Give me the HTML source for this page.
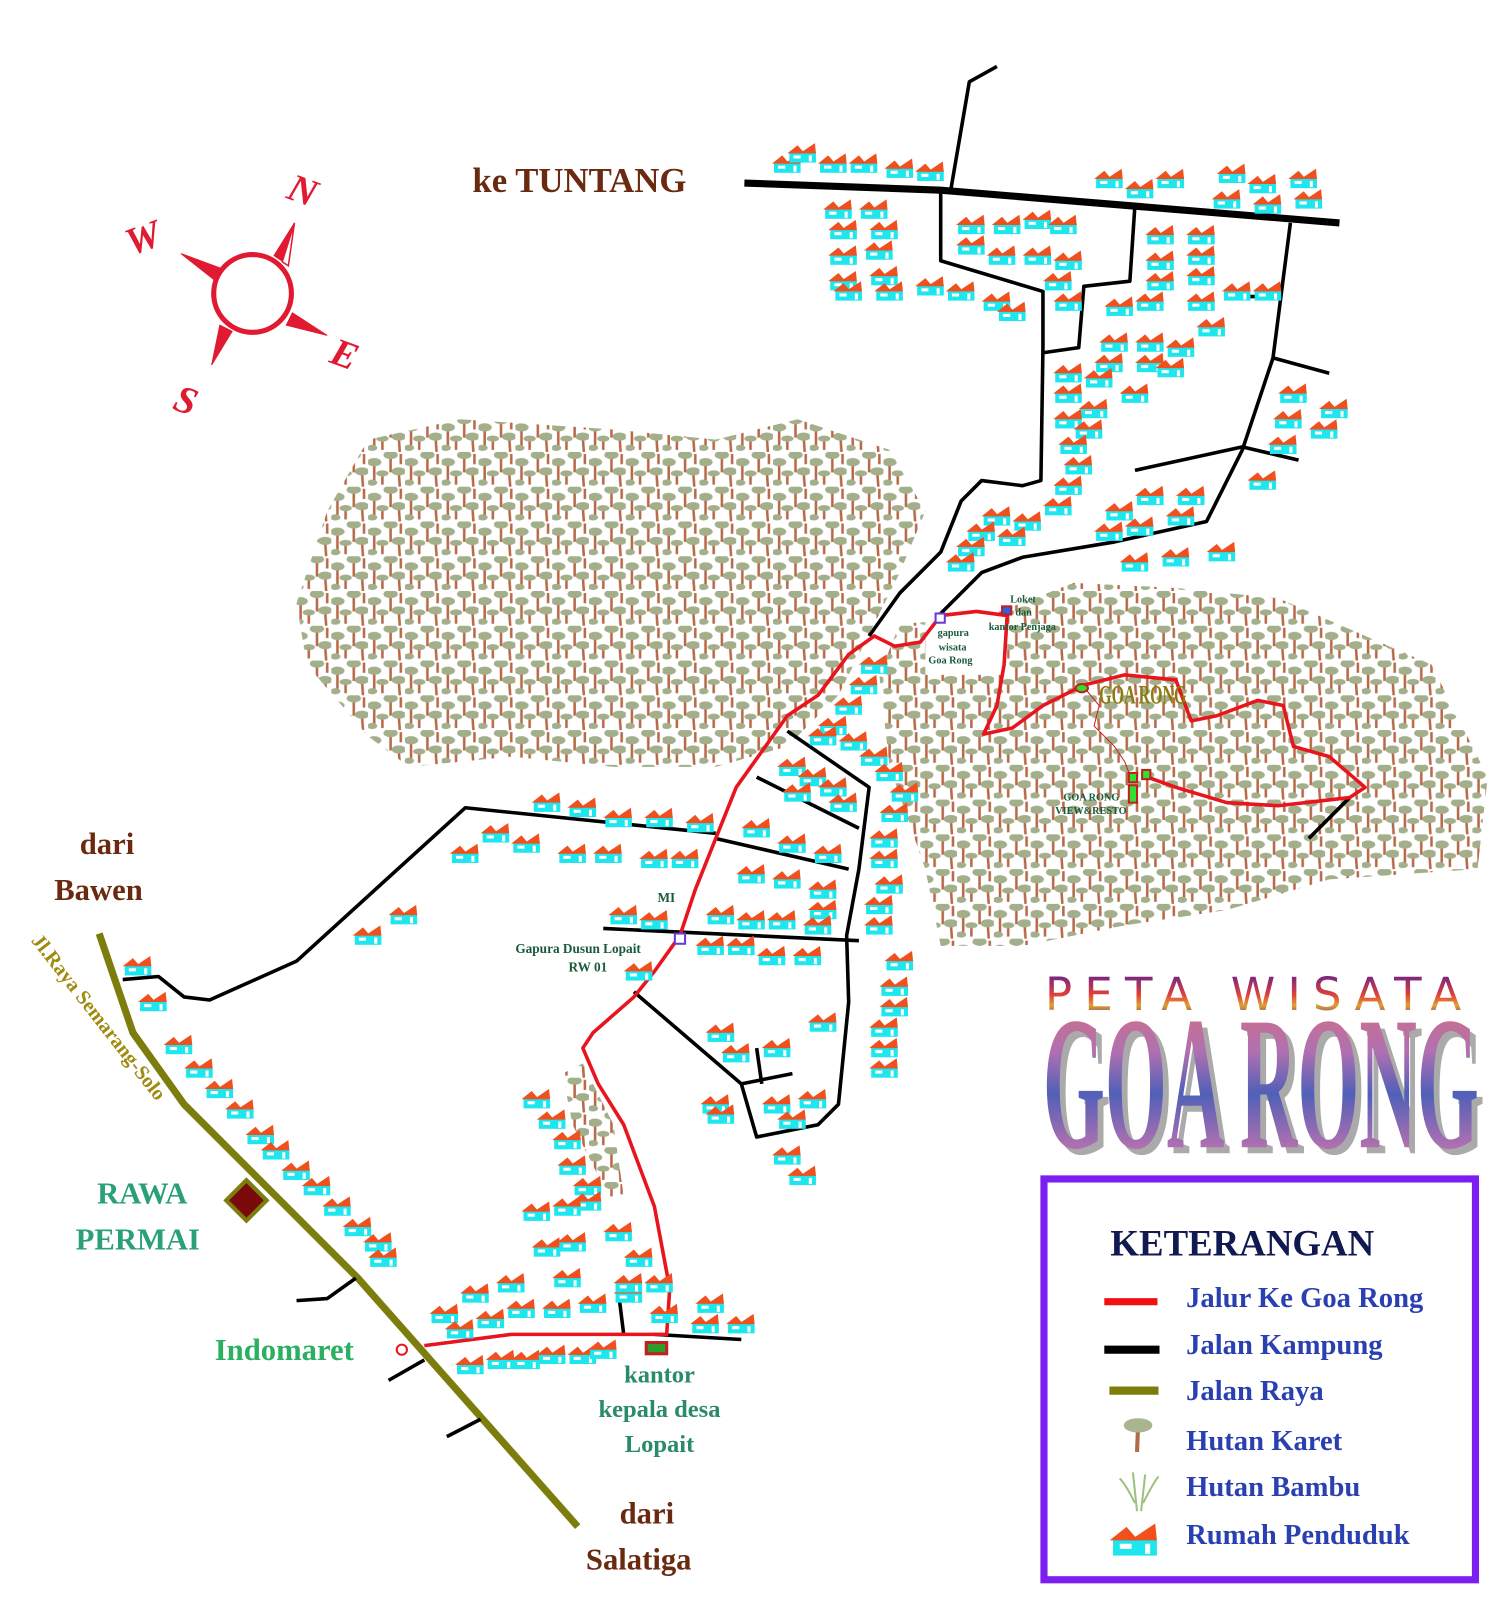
<!DOCTYPE html>
<html><head><meta charset="utf-8"><style>
html,body{margin:0;padding:0;background:#fff;width:1496px;height:1600px;overflow:hidden;}
svg{display:block;}
text{font-family:"Liberation Serif",serif;font-weight:bold;}
</style></head><body>
<svg id="m" width="1496" height="1600" viewBox="0 0 1496 1600" xmlns="http://www.w3.org/2000/svg">
<defs>
<symbol id="h" viewBox="0 0 30 20" width="30" height="20">
<rect x="2" y="9" width="26" height="10" fill="#1ee6ee"/>
<polygon points="0,10 10,2 17,10" fill="#f0501e"/>
<polygon points="12,10 27,0 28,10" fill="#f0501e"/>
<rect x="6" y="12" width="7" height="3" fill="#fff"/>
<rect x="21" y="12" width="3" height="6" fill="#fff"/>
</symbol>
<pattern id="tr" width="36" height="34" patternUnits="userSpaceOnUse">
<g stroke="#b86a48" stroke-width="2.5">
<line x1="6" y1="12" x2="6" y2="28"/><line x1="22" y1="4" x2="22" y2="20"/><line x1="30" y1="20" x2="31" y2="34"/><line x1="14" y1="22" x2="14" y2="32"/><line x1="32" y1="2" x2="32" y2="12"/>
</g>
<g fill="#a3ae8a">
<ellipse cx="6" cy="10" rx="7" ry="4"/><ellipse cx="22" cy="3" rx="7" ry="4"/><ellipse cx="30" cy="19" rx="7" ry="4"/><ellipse cx="14" cy="21" rx="6" ry="3"/><ellipse cx="4" cy="30" rx="5" ry="3"/>
</g>
</pattern>
<linearGradient id="gr" x1="0" y1="0" x2="0" y2="1">
<stop offset="0" stop-color="#e07070"/><stop offset="0.35" stop-color="#b070b0"/><stop offset="0.55" stop-color="#5060b8"/><stop offset="0.8" stop-color="#b070b0"/><stop offset="1" stop-color="#e07070"/>
</linearGradient>
<linearGradient id="gp" x1="0" y1="0" x2="0" y2="1">
<stop offset="0" stop-color="#4a1aa0"/><stop offset="0.5" stop-color="#e0403a"/><stop offset="0.7" stop-color="#e0a030"/><stop offset="1" stop-color="#4a1aa0"/>
</linearGradient>
</defs>
<g transform="scale(1.0225)">
<polygon fill="url(#tr)" points="290,590 320,500 360,430 450,410 600,420 700,430 780,410 870,440 905,500 880,560 850,620 820,680 770,730 700,750 600,750 500,740 400,750 360,720 300,650"/>
<polygon fill="url(#tr)" points="860,660 880,610 960,605 1050,570 1150,575 1250,585 1400,650 1455,760 1445,850 1300,860 1200,890 1100,905 1000,925 920,925 905,850 870,750"/>
<polygon fill="url(#tr)" points="550,1050 570,1040 600,1100 610,1170 595,1170 560,1100"/>
<rect x="905" y="600" width="80" height="60" fill="#fff"/>

<polyline points="97,913 130,1010 180,1080 350,1250 565,1493" fill="none" stroke="#7d7d0e" stroke-width="7"/>

<g fill="none" stroke="#000" stroke-width="3.5" stroke-linejoin="round">
<polyline points="728,179 920,186 1310,218" stroke-width="7"/>
<polyline points="930,185 948,80 975,65"/>
<polyline points="920,186 920,255 1020,285 1020,340 1018,470 1000,475 960,470 940,490 920,540 880,580 850,622"/>
<polyline points="1110,200 1105,275 1060,280 1055,340 1020,345"/>
<polyline points="1262,218 1245,350 1215,440 1180,510 1090,530 1000,545 960,560 920,600"/>
<polyline points="1245,350 1300,365"/><polyline points="1215,437 1110,460"/><polyline points="1215,437 1270,450"/><polyline points="1200,290 1250,290"/>
<polyline points="700,815 455,790 290,940 205,978 180,975 155,955 120,958"/>
<polyline points="770,715 850,770 840,850 828,915 830,980 820,1080 800,1100 740,1112 725,1060 620,970"/>
<polyline points="740,760 840,810"/><polyline points="700,820 830,850"/><polyline points="590,908 840,920"/>
<polyline points="725,1060 775,1050"/><polyline points="740,1025 745,1060"/>
<polyline points="640,1305 725,1310"/><polyline points="605,1265 610,1305"/>
<polyline points="290,1272 320,1270 348,1250"/><polyline points="380,1350 415,1330"/><polyline points="437,1405 470,1388"/>
<polyline points="1280,820 1320,780"/>
</g>

<polyline fill="none" stroke="#e8141e" stroke-width="3.5" stroke-linejoin="round" points="415,1316 500,1305 600,1305 652,1305 655,1260 640,1180 610,1100 585,1060 570,1025 580,1010 620,975 640,950 665,915 680,870 700,820 720,770 770,700 800,680 830,640 855,622 875,632 900,628 920,602 955,598 985,602 982,650 975,690 962,718 990,712 1020,690 1060,670 1100,660 1150,665 1165,705 1190,700 1230,685 1255,690 1265,730 1300,740 1335,770 1320,780 1250,788 1200,785 1150,770 1122,760"/>
<polyline fill="none" stroke="#c82020" stroke-width="1" points="1060,672 1075,690 1070,710 1090,730 1100,745 1105,758"/>
<circle cx="393" cy="1320" r="5" fill="none" stroke="#e8141e" stroke-width="2"/>
<rect x="632" y="1313" width="20" height="11" fill="#2aa02a" stroke="#c02020" stroke-width="3"/>
<rect x="660" y="913" width="10" height="10" fill="#fff" stroke="#6a3ad0" stroke-width="2"/>
<rect x="915" y="600" width="9" height="9" fill="#fff" stroke="#6a3ad0" stroke-width="2"/>
<rect x="980" y="593" width="9" height="8" fill="#3060e0" stroke="#c02020" stroke-width="2"/>
<ellipse cx="1058" cy="673" rx="6" ry="4" fill="#30e030" stroke="#c02020" stroke-width="2"/>
<rect x="1104" y="756" width="8" height="9" fill="#30e030" stroke="#c02020" stroke-width="2"/>
<rect x="1117" y="753" width="8" height="9" fill="#30e030" stroke="#c02020" stroke-width="2"/>
<rect x="1104" y="768" width="8" height="17" fill="#30e030" stroke="#c02020" stroke-width="2"/>
<rect x="227" y="1160" width="28" height="28" fill="#7a0a0a" stroke="#7d7d0e" stroke-width="4" transform="rotate(45 241 1174)"/>

<g id="houses"></g>

<g stroke="#e01a30" fill="#e01a30">
<circle cx="247" cy="287" r="38" fill="none" stroke-width="5"/>
<polygon points="288,218 280,258 268,250" /><polygon points="288,218 276,256 282,260" fill="#fff" stroke-width="1.5"/>
<polygon points="320,328 280,318 286,306"/>
<polygon points="207,357 215,318 227,324"/>
<polygon points="177,248 215,262 210,274"/>
</g>
<g fill="#e01a30" font-size="38" style="font-style:italic">
<text x="283" y="200" transform="rotate(20 300 185)">N</text>
<text x="122" y="245" transform="rotate(-20 140 230)">W</text>
<text x="325" y="360" transform="rotate(20 340 345)">E</text>
<text x="172" y="405" transform="rotate(20 185 390)">S</text>
</g>

<text x="462" y="188" font-size="34" fill="#6a2a10">ke TUNTANG</text>
<text x="78" y="835" font-size="30" fill="#6a2a10">dari</text>
<text x="53" y="880" font-size="30" fill="#6a2a10">Bawen</text>
<text x="606" y="1490" font-size="30" fill="#6a2a10">dari</text>
<text x="573" y="1535" font-size="30" fill="#6a2a10">Salatiga</text>
<text x="30" y="920" font-size="20" fill="#a08a10" transform="rotate(52 30 920)">Jl.Raya Semarang-Solo</text>
<text x="95" y="1177" font-size="30" fill="#2aa07a">RAWA</text>
<text x="74" y="1222" font-size="30" fill="#2aa07a">PERMAI</text>
<text x="210" y="1330" font-size="30" fill="#2ab060">Indomaret</text>
<g font-size="24" fill="#2a8a6a" text-anchor="middle">
<text x="645" y="1352">kantor</text><text x="645" y="1386">kepala desa</text><text x="645" y="1420">Lopait</text>
</g>
<g font-size="13" fill="#1a5a3a">
<text x="643" y="882">MI</text>
<text x="504" y="932">Gapura Dusun Lopait</text>
<text x="556" y="950">RW 01</text>
<text x="988" y="589" font-size="10">Loket</text>
<text x="993" y="602" font-size="10">dan</text>
<text x="967" y="616" font-size="10">kantor Penjaga</text>
<text x="917" y="622" font-size="10">gapura</text>
<text x="918" y="636" font-size="10">wisata</text>
<text x="908" y="649" font-size="10">Goa Rong</text>
<text x="1040" y="783" font-size="10">GOA RONG</text>
<text x="1032" y="796" font-size="10">VIEW&amp;RESTO</text>
</g>
<text x="1075" y="688" font-size="26" fill="#8a7a10" font-weight="normal" transform="translate(1075 688) scale(0.6 1) translate(-1075 -688)">GOA RONG</text>

<text x="1022" y="988" font-size="44" fill="url(#gp)" style="font-family:'DejaVu Sans',sans-serif;font-weight:normal;letter-spacing:8px" textLength="415">PETA WISATA</text>
<g transform="translate(1020 1122) scale(0.41 0.98)">
<text x="14" y="6" font-size="190" fill="#444" opacity="0.45" font-weight="normal">GOA RONG</text>
<text x="0" y="0" font-size="190" fill="url(#gr)" font-weight="normal">GOA RONG</text>
</g>

<rect x="1021" y="1153" width="422" height="392" fill="none" stroke="#7b1ff0" stroke-width="7"/>
<text x="1086" y="1228" font-size="36" fill="#101a50">KETERANGAN</text>
<g font-size="28" fill="#2a40b0">
<text x="1160" y="1278">Jalur Ke Goa Rong</text>
<text x="1160" y="1324">Jalan Kampung</text>
<text x="1160" y="1369">Jalan Raya</text>
<text x="1160" y="1418">Hutan Karet</text>
<text x="1160" y="1463">Hutan Bambu</text>
<text x="1160" y="1510">Rumah Penduduk</text>
</g>
<line x1="1080" y1="1273" x2="1132" y2="1273" stroke="#f01010" stroke-width="7"/>
<line x1="1080" y1="1320" x2="1134" y2="1320" stroke="#000" stroke-width="8"/>
<line x1="1085" y1="1360" x2="1133" y2="1360" stroke="#7d7d0e" stroke-width="8"/>
<line x1="1113" y1="1395" x2="1112" y2="1420" stroke="#b06a48" stroke-width="4"/>
<ellipse cx="1113" cy="1394" rx="14" ry="7" fill="#a9b58f"/>
<g stroke="#a0c080" stroke-width="2" fill="none"><path d="M1112,1478 L1108,1440 M1116,1478 L1120,1442 M1110,1470 Q1100,1450 1095,1446 M1118,1470 Q1128,1450 1133,1444"/></g>
<use href="#h" x="1085" y="1490" width="50" height="33"/>
</g>
</svg>
<script>
var P=[755,150,770,140,800,150,830,150,865,155,895,158,1070,165,1100,175,1130,165,1190,160,1220,170,1260,165,1185,185,1225,190,1265,185,
805,195,840,195,810,215,850,215,810,240,845,235,810,265,850,260,815,275,855,275,895,270,925,275,960,285,975,295,935,210,970,210,1000,205,1025,210,935,230,965,240,1000,240,1030,245,1020,265,1030,285,1120,220,1160,220,1120,245,1160,240,1120,265,1160,260,1080,290,1110,285,1160,285,1195,275,1225,275,1170,310,1075,325,1110,325,1140,330,1070,345,1110,345,1130,350,1030,355,1060,360,1095,375,1030,375,1055,390,1030,400,1050,410,1035,425,1040,445,1030,465,1020,485,1250,375,1290,390,1245,400,1280,410,1240,425,1220,460,1110,475,1150,475,1080,490,1140,495,1070,510,1100,505,1095,540,1135,535,1180,530,960,495,990,500,945,510,975,515,935,525,925,540,
840,640,830,660,815,680,800,700,790,710,820,715,840,730,760,740,780,750,800,760,765,765,810,775,855,745,870,765,860,785,850,810,850,830,855,855,845,875,845,895,865,930,860,955,860,975,850,995,850,1015,850,1035,725,800,760,815,795,825,720,845,755,850,790,860,790,880,690,885,720,890,750,890,785,895,595,885,625,890,680,915,710,915,740,925,775,925,610,940,520,775,555,780,590,790,630,790,670,795,470,805,500,815,545,825,580,825,625,830,655,830,440,825,380,885,345,905,690,1000,705,1020,745,1015,790,990,685,1070,690,1080,745,1070,780,1065,760,1085,
120,935,135,970,160,1012,180,1035,200,1055,220,1075,240,1100,255,1115,275,1135,295,1150,315,1170,335,1190,355,1205,360,1220,510,1065,525,1085,540,1105,545,1130,560,1150,560,1165,590,1195,610,1220,540,1240,485,1245,450,1255,420,1275,435,1290,465,1280,495,1270,530,1270,565,1265,600,1255,635,1275,680,1265,675,1285,710,1285,445,1325,475,1320,500,1320,525,1315,555,1315,575,1310,755,1120,770,1140,510,1175,540,1170,520,1210,545,1205,600,1245,630,1245];
var g=document.getElementById('houses'),s='';
for(var i=0;i<P.length;i+=2){s+='<use href="#h" x="'+P[i]+'" y="'+P[i+1]+'"/>';}
g.innerHTML=s;
</script>
</body></html>
